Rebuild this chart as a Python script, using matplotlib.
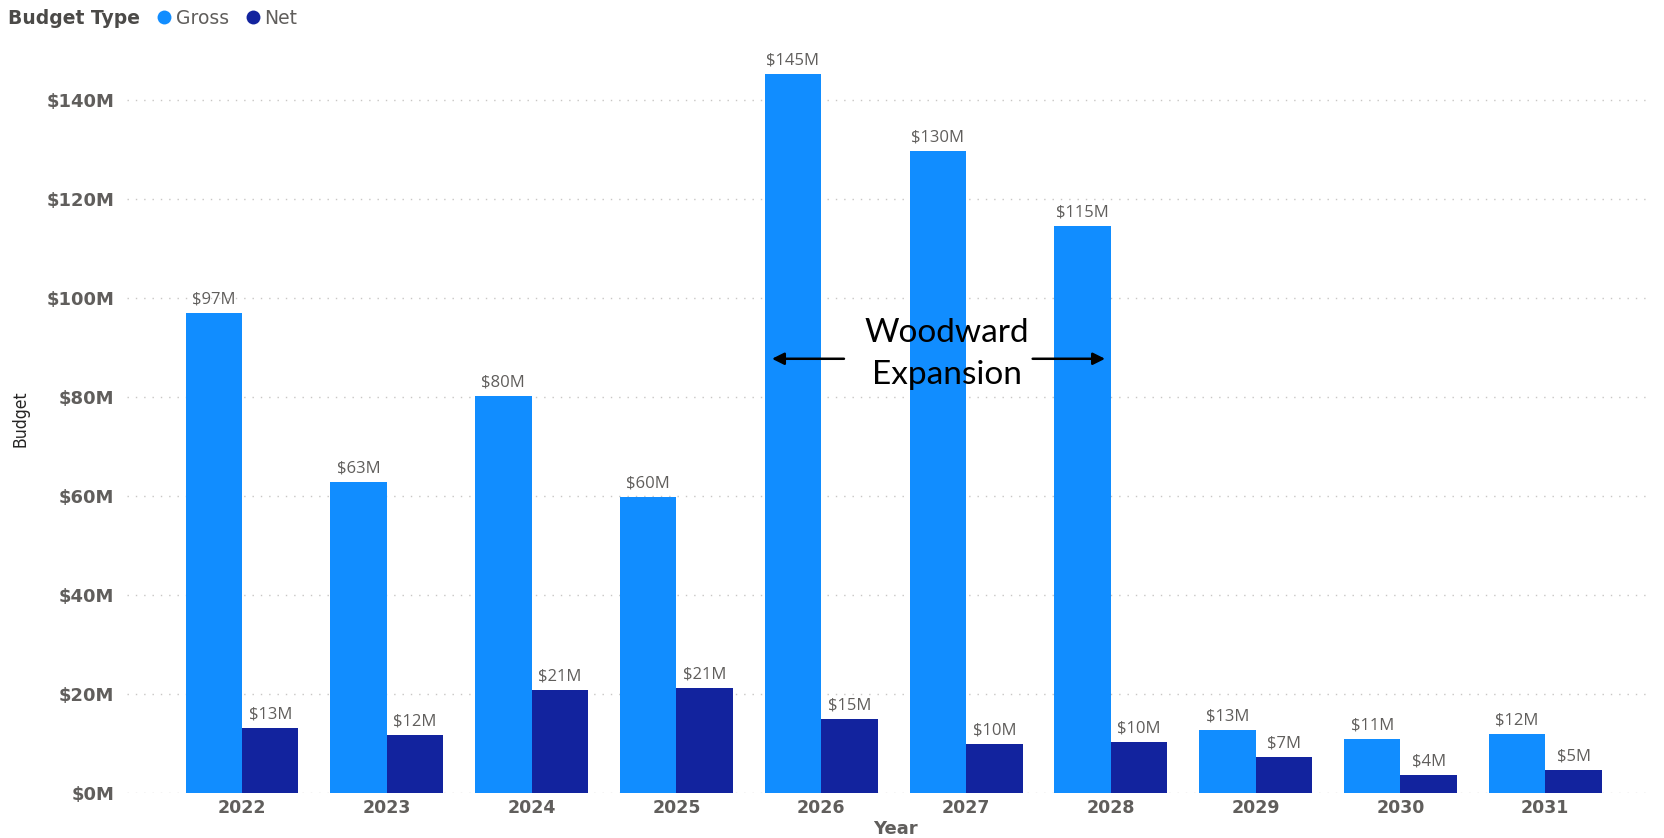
import matplotlib
matplotlib.use("Agg")
import matplotlib.pyplot as plt
import numpy as np
from matplotlib.ticker import FuncFormatter, MultipleLocator
from matplotlib.lines import Line2D

# Budget by year, in millions of dollars
years = ["2022", "2023", "2024", "2025", "2026", "2027", "2028", "2029", "2030", "2031"]
gross = [96.9, 62.9, 80.1, 59.7, 145.2, 129.7, 114.6, 12.7, 10.9, 12.0]
net = [13.1, 11.8, 20.8, 21.2, 15.0, 9.9, 10.2, 7.2, 3.6, 4.7]
series_names = ["Gross", "Net"]
series_colors = ["#118DFF", "#12239E"]

TICK_GRAY = "#605E5C"
W, H = 1665, 838

fig = plt.figure(figsize=(W / 100, H / 100), dpi=100)
ax = fig.add_axes([127 / W, 1 - 793 / H, 1524 / W, 742.7 / H])

x = np.arange(len(years))
bw = 0.39
bars_g = ax.bar(x - bw / 2, gross, bw, color=series_colors[0], linewidth=0, zorder=2)
bars_n = ax.bar(x + bw / 2, net, bw, color=series_colors[1], linewidth=0, zorder=2)

label_font = dict(family="Open Sans", fontsize=12, color=TICK_GRAY)
for bars, vals in ((bars_g, gross), (bars_n, net)):
    ax.bar_label(bars, labels=[f"${v:.0f}M" for v in vals], padding=4, **label_font)

ax.set_xlim(-0.794, 9.73)
ax.set_ylim(0, 150)
ax.yaxis.set_major_locator(MultipleLocator(20))
ax.yaxis.set_major_formatter(FuncFormatter(lambda v, _: f"${v:.0f}M"))
ax.set_xticks(x)
ax.set_xticklabels(years)

for lab in ax.get_yticklabels():
    lab.set_fontweight("bold")
    lab.set_fontsize(13)
    lab.set_color(TICK_GRAY)
for lab in ax.get_xticklabels():
    lab.set_fontweight("bold")
    lab.set_fontsize(12.5)
    lab.set_color(TICK_GRAY)
ax.tick_params(axis="y", length=0, pad=9)
ax.tick_params(axis="x", length=0, pad=4)

ax.yaxis.grid(True, linestyle=(0, (1, 5)), color="#C8C6C4", linewidth=1)
ax.set_axisbelow(True)
for s in ax.spines.values():
    s.set_visible(False)

# Annotation for the Woodward Expansion years
ax.text(4.865, 88.7, "Woodward\nExpansion", ha="center", va="center",
        family="Lato", fontsize=24, color="black", linespacing=1.5, zorder=3)
arrow_kw = dict(arrowstyle="-|>", color="black", lw=1.8, mutation_scale=18,
                shrinkA=0, shrinkB=0)
ax.annotate("", xy=(3.66, 87.7), xytext=(4.157, 87.7), arrowprops=arrow_kw)
ax.annotate("", xy=(5.96, 87.7), xytext=(5.46, 87.7), arrowprops=arrow_kw)

# Axis titles
fig.text(895 / W, 1 - 829 / H, "Year", ha="center", va="center",
         fontweight="bold", fontsize=13, color=TICK_GRAY)
fig.text(21 / W, 1 - 419 / H, "Budget", ha="center", va="center", rotation=90,
         fontsize=12.5, fontstretch="condensed", color="#252423")

# Legend
fig.text(8 / W, 1 - 18 / H, "Budget Type", ha="left", va="center",
         fontweight="bold", fontsize=13.5, color="#4B4A48")
handles = [Line2D([], [], marker="o", linestyle="", markersize=10,
                  markerfacecolor=c, markeredgewidth=0) for c in series_colors]
fig.legend(handles, series_names, ncol=2, loc="center left",
           bbox_to_anchor=(157 / W, 1 - 18 / H), frameon=False,
           handlelength=0.8, handletextpad=0.2, columnspacing=0.9,
           borderpad=0, borderaxespad=0,
           prop=dict(family="DejaVu Sans", size=13.5), labelcolor=TICK_GRAY)

fig.savefig("out.png", dpi=100)
